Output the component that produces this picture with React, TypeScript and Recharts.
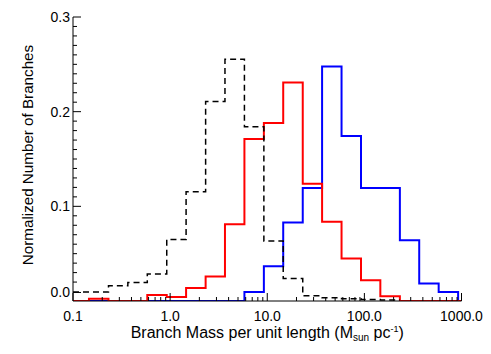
import React from "react";
import { LineChart, Line, XAxis, YAxis } from "recharts";

// Bin edges (Branch mass per unit length, log-spaced)
const binEdges = [0.1, 0.146, 0.232, 0.367, 0.582, 0.923, 1.46, 2.32, 3.67, 5.82, 9.23, 14.6, 23.2, 36.7, 58.2, 92.3, 146, 232, 367, 582, 923, 1000];

// Normalized counts per bin (one value per bin, null = not drawn)
const dashedBlack = [0.0095, 0.0095, 0.016, 0.0195, 0.0286, 0.065, 0.1154, 0.2107, 0.2555, 0.184, 0.0635, 0.0237, 0.0055, 0.0035, 0.0025, 0.0015, 0.001, null, null, null, null];
const redHist = [0, 0.0025, 0, 0, 0.0064, 0.0042, 0.0138, 0.0258, 0.0812, 0.171, 0.188, 0.2308, 0.1239, 0.0836, 0.0449, 0.0219, 0.005, 0, 0, 0, 0];
const blueHist = [null, 0, 0, 0, 0, 0, 0, 0, 0, 0.0095, 0.0367, 0.083, 0.1193, 0.2477, 0.1743, 0.1193, 0.1193, 0.0643, 0.0184, 0.0095, 0];

const xMajorTicks = [0.1, 1, 10, 100, 1000];
const xTickLabels = ["0.1", "1.0", "10.0", "100.0", "1000.0"];
const xMinorTicks = [0.2, 0.3, 0.4, 0.5, 0.6, 0.7, 0.8, 0.9, 2, 3, 4, 5, 6, 7, 8, 9, 20, 30, 40, 50, 60, 70, 80, 90, 200, 300, 400, 500, 600, 700, 800, 900];
const yMajorTicks = [0.009, 0.1, 0.2, 0.3];
const yTickLabels = ["0.0", "0.1", "0.2", "0.3"];
const yMinorTicks = [0.02, 0.03, 0.04, 0.05, 0.06, 0.07, 0.08, 0.09, 0.11, 0.12, 0.13, 0.14, 0.15, 0.16, 0.17, 0.18, 0.19, 0.21, 0.22, 0.23, 0.24, 0.25, 0.26, 0.27, 0.28, 0.29];

function stepValue(bins: (number | null)[], i: number): number | null {
  if (i < bins.length && bins[i] !== null) return bins[i];
  if (i > 0 && bins[i - 1] !== null) return bins[i - 1];
  return null;
}

const data = binEdges.map((x, i) => ({
  x,
  black: stepValue(dashedBlack, i),
  red: stepValue(redHist, i),
  blue: stepValue(blueHist, i),
}));

const FONT = "'Liberation Sans', Arial, Helvetica, sans-serif";
const allX = [...xMajorTicks, ...xMinorTicks].sort((a, b) => a - b);
const allY = [...yMajorTicks, ...yMinorTicks].sort((a, b) => a - b);

const makeXTick = (side: "bottom" | "top") => (props: any) => {
  const { x, y, payload } = props;
  const v = payload.value;
  const idx = xMajorTicks.indexOf(v);
  const len = idx >= 0 ? 8 : 4;
  const dir = side === "bottom" ? -1 : 1;
  return (
    <g>
      <line x1={x} y1={y} x2={x} y2={y + dir * len} stroke="#000" strokeWidth={1} />
      {side === "bottom" && idx >= 0 && (
        <text x={x} y={y + 20} textAnchor="middle" fontFamily={FONT} fontSize={14} fill="#000">
          {xTickLabels[idx]}
        </text>
      )}
    </g>
  );
};

const makeYTick = (side: "left" | "right") => (props: any) => {
  const { x, y, payload } = props;
  const v = payload.value;
  const idx = yMajorTicks.indexOf(v);
  const len = idx >= 0 ? 8 : 4;
  const dir = side === "left" ? 1 : -1;
  return (
    <g>
      <line x1={x} y1={y} x2={x + dir * len} y2={y} stroke="#000" strokeWidth={1} />
      {side === "left" && idx >= 0 && (
        <text x={x - 3} y={y + 5} textAnchor="end" fontFamily={FONT} fontSize={14} fill="#000">
          {yTickLabels[idx]}
        </text>
      )}
    </g>
  );
};

const XTitle = (props: any) => {
  const vb = props.viewBox;
  const cx = vb.x + vb.width / 2;
  const y = vb.y + 37;
  return (
    <text x={cx} y={y} textAnchor="middle" fontFamily={FONT} fontSize={16} fill="#000">
      <tspan>Branch Mass per unit length (M</tspan>
      <tspan fontSize={10} dy={3}>sun</tspan>
      <tspan fontSize={16} dy={-3}> pc</tspan>
      <tspan fontSize={9} dy={-6}>-1</tspan>
      <tspan fontSize={16} dy={6}>)</tspan>
    </text>
  );
};

const YTitle = (props: any) => {
  const vb = props.viewBox;
  const cx = vb.x + 5;
  const cy = vb.y + vb.height / 2 - 4;
  return (
    <text
      x={cx}
      y={cy}
      dy="0.35em"
      textAnchor="middle"
      transform={`rotate(-90, ${cx}, ${cy})`}
      fontFamily={FONT}
      fontSize={15.2}
      fill="#000"
    >
      Normalized Number of Branches
    </text>
  );
};

export default function App() {
  return (
    <LineChart
      width={483}
      height={346}
      data={data}
      margin={{ top: 9, right: 29.5, left: 15, bottom: 3 }}
    >
      <XAxis
        dataKey="x"
        type="number"
        scale="log"
        domain={[0.1, 1000]}
        allowDataOverflow
        ticks={allX}
        interval={0}
        tickSize={0}
        tickMargin={0}
        tickLine={false}
        tick={makeXTick("bottom")}
        axisLine={{ stroke: "#000", strokeWidth: 1 }}
        height={50}
        label={XTitle}
      />
      <XAxis
        xAxisId="top"
        orientation="top"
        dataKey="x"
        type="number"
        scale="log"
        domain={[0.1, 1000]}
        allowDataOverflow
        ticks={allX}
        interval={0}
        tickSize={0}
        tickMargin={0}
        tickLine={false}
        tick={makeXTick("top")}
        axisLine={{ stroke: "#000", strokeWidth: 1 }}
        height={0}
      />
      <YAxis
        type="number"
        domain={[0, 0.3]}
        allowDataOverflow
        ticks={allY}
        interval={0}
        tickSize={0}
        tickMargin={0}
        tickLine={false}
        tick={makeYTick("left")}
        axisLine={{ stroke: "#000", strokeWidth: 1 }}
        width={50}
        label={YTitle}
      />
      <YAxis
        yAxisId="right"
        orientation="right"
        type="number"
        domain={[0, 0.3]}
        allowDataOverflow
        ticks={allY}
        interval={0}
        tickSize={0}
        tickMargin={0}
        tickLine={false}
        tick={makeYTick("right")}
        axisLine={{ stroke: "#000", strokeWidth: 1 }}
        width={0}
      />
      <Line
        dataKey="blue"
        type="stepAfter"
        stroke="#0000ff"
        strokeWidth={2}
        dot={false}
        activeDot={false}
        isAnimationActive={false}
      />
      <Line
        dataKey="red"
        type="stepAfter"
        stroke="#ff0000"
        strokeWidth={2}
        dot={false}
        activeDot={false}
        isAnimationActive={false}
      />
      <Line
        dataKey="black"
        type="stepAfter"
        stroke="#000"
        strokeWidth={1.5}
        strokeDasharray="6 4"
        dot={false}
        activeDot={false}
        isAnimationActive={false}
      />
    </LineChart>
  );
}
